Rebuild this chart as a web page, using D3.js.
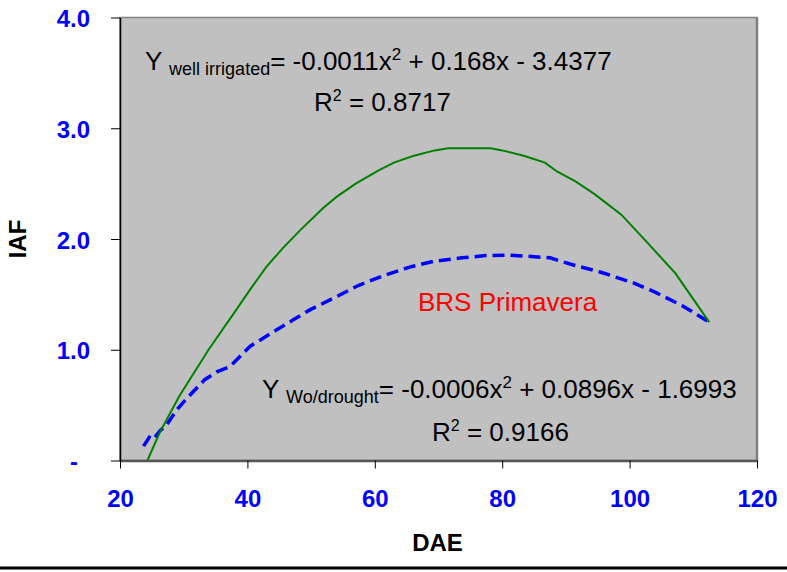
<!DOCTYPE html>
<html>
<head>
<meta charset="utf-8">
<script src="https://cdn.jsdelivr.net/npm/d3@7"></script>
<style>
  html, body { margin: 0; padding: 0; background: #ffffff; }
  svg { display: block; font-family: Arial, "Liberation Sans", sans-serif; }
</style>
</head>
<body>
<svg id="chart" width="787" height="572"></svg>
<script>
// ---- data ----
const daeIrrigated = [24.3, 26.3, 29.3, 33.9, 38.0, 40.5, 43.0, 45.6, 48.3, 51.9, 54.0, 57.0, 60.6, 63.0, 66.0, 69.4, 71.5, 78.2, 80.0, 83.5, 86.7, 88.6, 91.5, 94.4, 98.7, 102.9, 107.2, 112.5];
const iafIrrigated = [0.0, 0.26, 0.58, 1.0, 1.34, 1.55, 1.75, 1.92, 2.08, 2.28, 2.38, 2.50, 2.62, 2.69, 2.75, 2.80, 2.82, 2.82, 2.80, 2.75, 2.69, 2.61, 2.52, 2.41, 2.22, 1.96, 1.69, 1.25];

const daeDrought = [23.7, 24.6, 25.2, 26.3, 27.3, 28.9, 30.0, 31.3, 33.3, 35.2, 37.3, 40.4, 44.6, 47.2, 49.8, 54.0, 57.4, 61.4, 65.7, 69.4, 73.7, 77.4, 81.1, 87.5, 91.2, 95.5, 100.8, 104.0, 108.2, 112.5];
const iafDrought = [0.13, 0.21, 0.19, 0.27, 0.32, 0.455, 0.53, 0.61, 0.73, 0.80, 0.85, 1.03, 1.18, 1.27, 1.36, 1.48, 1.58, 1.67, 1.75, 1.80, 1.83, 1.85, 1.855, 1.83, 1.765, 1.70, 1.60, 1.52, 1.40, 1.25];

const xTicks = [20, 40, 60, 80, 100, 120];
const yTicks = [0, 1, 2, 3, 4];
const yTickLabels = ["-", "1.0", "2.0", "3.0", "4.0"];

const xTitle = "DAE";
const yTitle = "IAF";
const cultivar = "BRS Primavera";

// ---- layout ----
const svg = d3.select("#chart");
const L = 120, R = 757, T = 17.5, B = 460.5;

const x = d3.scaleLinear().domain([20, 120]).range([L, R]);
const y = d3.scaleLinear().domain([0, 4]).range([B, T]);

// plot area
svg.append("rect")
  .attr("x", L).attr("y", T).attr("width", R - L).attr("height", B - T)
  .attr("fill", "#c0c0c0").attr("stroke", "#808080").attr("stroke-width", 1.5);
svg.append("line").attr("x1", R).attr("x2", R).attr("y1", T).attr("y2", B)
  .attr("stroke", "#808080").attr("stroke-width", 2.5);

// curves
const lineGen = d3.line().x(d => x(d[0])).y(d => y(d[1]));
const irrigated = daeIrrigated.map((d, i) => [d, iafIrrigated[i]]);
const drought = daeDrought.map((d, i) => [d, iafDrought[i]]);

svg.append("path").datum(drought)
  .attr("d", lineGen).attr("fill", "none")
  .attr("stroke", "#0000ff").attr("stroke-width", 3.5)
  .attr("stroke-dasharray", "12,6");

svg.append("path").datum(irrigated)
  .attr("d", lineGen).attr("fill", "none")
  .attr("stroke", "#008000").attr("stroke-width", 2);

// axes
const xAxis = svg.append("g").attr("transform", `translate(0,${B})`)
  .call(d3.axisBottom(x).tickValues(xTicks).tickSize(8).tickSizeOuter(0).tickFormat(d3.format("d")));
xAxis.select(".domain").attr("stroke", "#555555").attr("stroke-width", 2.5);
xAxis.selectAll(".tick line").attr("stroke", "#000").attr("stroke-width", 1);
xAxis.selectAll(".tick text")
  .attr("y", 0).attr("dy", 0).attr("transform", "translate(0,46.5)")
  .attr("fill", "#0000ff").attr("font-size", 24).attr("font-weight", "bold")
  .attr("font-family", "Arial, 'Liberation Sans', sans-serif");

const yAxis = svg.append("g").attr("transform", `translate(${L},0)`)
  .call(d3.axisLeft(y).tickValues(yTicks).tickSize(9).tickSizeOuter(0)
    .tickFormat((d, i) => yTickLabels[i]));
yAxis.select(".domain").attr("stroke", "#000").attr("stroke-width", 1.5);
yAxis.selectAll(".tick line").attr("stroke", "#000").attr("stroke-width", 1);
yAxis.selectAll(".tick text")
  .attr("x", d => d === 0 ? -42 : -30).attr("dy", 0).attr("y", 9)
  .attr("fill", "#0000ff").attr("font-size", 24).attr("font-weight", "bold")
  .attr("font-family", "Arial, 'Liberation Sans', sans-serif");

// axis titles
svg.append("text").attr("x", 437.5).attr("y", 550.5)
  .attr("text-anchor", "middle").attr("font-size", 24).attr("font-weight", "bold")
  .attr("fill", "#000").text(xTitle);
svg.append("text").attr("transform", "translate(25.5,239) rotate(-90)")
  .attr("text-anchor", "middle").attr("font-size", 24).attr("font-weight", "bold")
  .attr("fill", "#000").text(yTitle);

// equation annotations
function equation(xp, yp, sub, before, after) {
  const t = svg.append("text").attr("x", xp).attr("y", yp)
    .attr("font-size", 26).attr("fill", "#000");
  t.append("tspan").text("Y ");
  t.append("tspan").attr("font-size", 18).attr("dy", 5).text(sub);
  t.append("tspan").attr("dy", -5).text(before);
  t.append("tspan").attr("font-size", 17).attr("dy", -10).text("2");
  t.append("tspan").attr("dy", 10).text(after);
}
function r2(xp, yp, val) {
  const t = svg.append("text").attr("x", xp).attr("y", yp)
    .attr("font-size", 26).attr("fill", "#000");
  t.append("tspan").text("R");
  t.append("tspan").attr("font-size", 16).attr("dy", -10).text("2");
  t.append("tspan").attr("dy", 10).text(" = " + val);
}

equation(145, 70, "well irrigated", "= -0.0011x", " + 0.168x - 3.4377");
r2(314, 111, "0.8717");
equation(262, 398, "Wo/drought", "= -0.0006x", " + 0.0896x - 1.6993");
r2(432, 441, "0.9166");

svg.append("text").attr("x", 418).attr("y", 310.5)
  .attr("font-size", 26).attr("fill", "#ff0000").text(cultivar);

// bottom rule
svg.append("line").attr("x1", 0).attr("x2", 787).attr("y1", 568).attr("y2", 568)
  .attr("stroke", "#000").attr("stroke-width", 3);
</script>
</body>
</html>
